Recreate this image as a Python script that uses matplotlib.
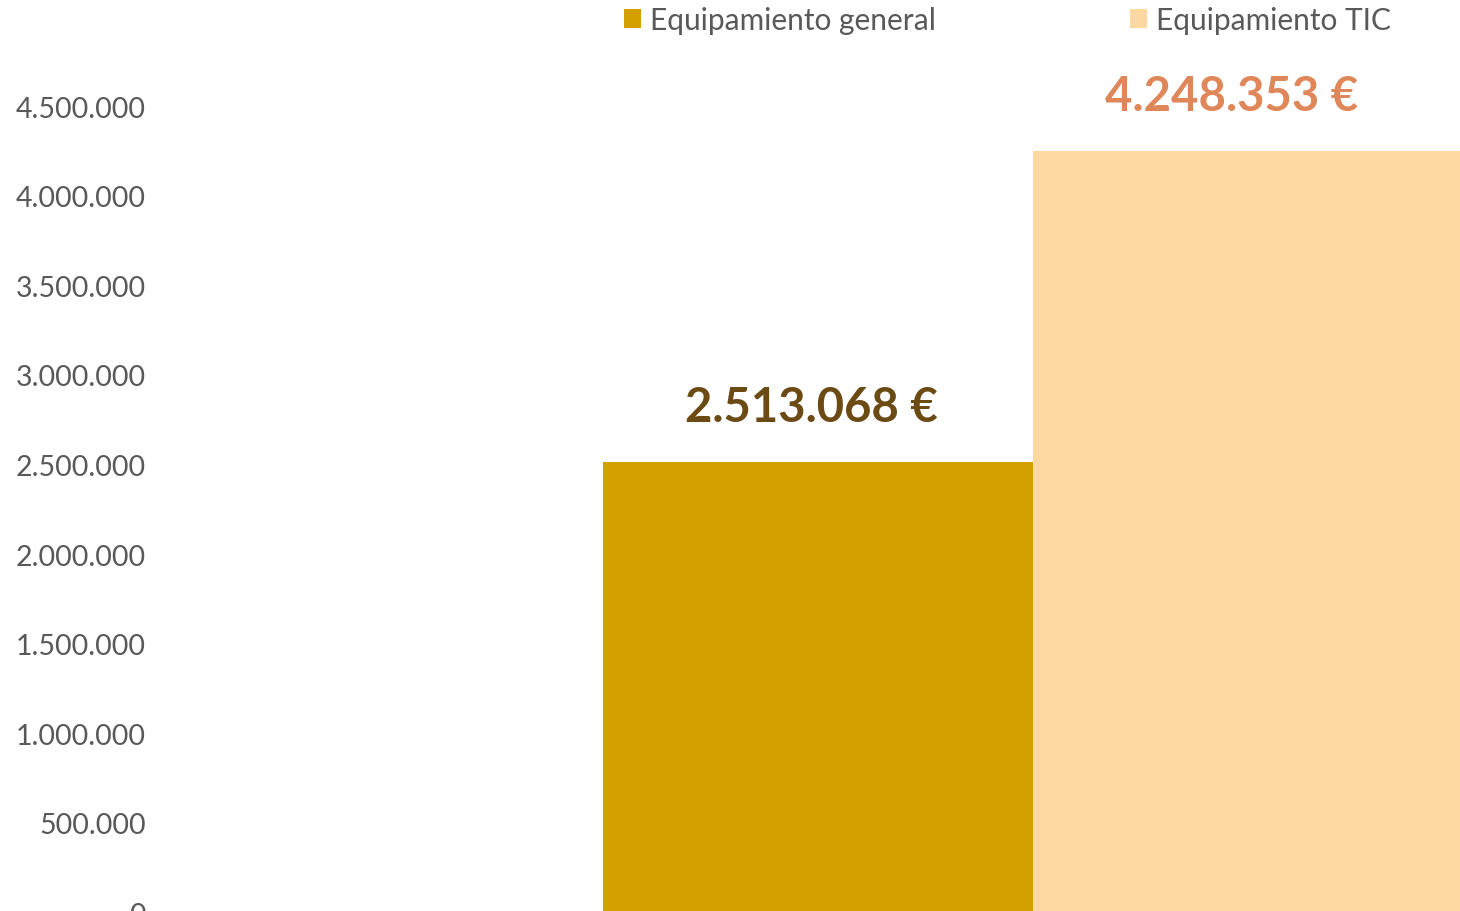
import matplotlib.pyplot as plt
from matplotlib.ticker import FuncFormatter
from matplotlib.patches import Patch

plt.rcParams['font.family'] = ['Lato', 'DejaVu Sans']

series = ["Equipamiento general", "Equipamiento TIC"]
values = [2513068, 4248353]
bar_colors = ["#D4A000", "#FDD8A0"]
label_colors = ["#6B4A14", "#E0875A"]
label_dx = [-5, -12]
yticks = [0, 500000, 1000000, 1500000, 2000000, 2500000, 3000000, 3500000, 4000000, 4500000]

def thousands(v, pos=None):
    return f"{int(v):,}".replace(",", ".")

fig = plt.figure(figsize=(14.6, 9.12), dpi=100)
W, H = 1460, 912
# axes placed in pixel terms: left 160px, zero line at 913.6px, 5M at 17.4px
ax = fig.add_axes([160 / W, (H - 913.6) / H, (W - 160) / W, (913.6 - 17.4) / H])

bw = 0.4
xs = [-bw / 2, bw / 2]
bars = ax.bar(xs, values, width=bw, color=bar_colors, linewidth=0)

for x, v, c, dx in zip(xs, values, label_colors, label_dx):
    ax.annotate(thousands(v) + " €", (x, v), xytext=(dx, 40), textcoords="offset points",
                ha="center", va="center", fontsize=34, fontweight="bold", color=c)

# group centre at 1033px, 1 data unit = 1075px
ax.set_xlim(-(1033 - 160) / 1075, (1460 - 1033) / 1075)
ax.set_ylim(0, 5000000)
ax.set_yticks(yticks)
ax.yaxis.set_major_formatter(FuncFormatter(thousands))
ax.tick_params(axis="y", length=0, pad=10, labelsize=20.5, labelcolor="#595959")
ax.set_xticks([])
for s in ax.spines.values():
    s.set_visible(False)

handles = [Patch(facecolor=c, edgecolor="none") for c in bar_colors]
fig.legend(handles, series, loc="upper left", bbox_to_anchor=(624 / W, 1.0 - 7 / H),
           ncol=2, frameon=False, fontsize=21.5, labelcolor="#595959",
           handlelength=0.57, handleheight=0.57, handletextpad=0.3,
           columnspacing=6.5, borderpad=0.0, borderaxespad=0.0)

fig.savefig("out.png", dpi=100)
